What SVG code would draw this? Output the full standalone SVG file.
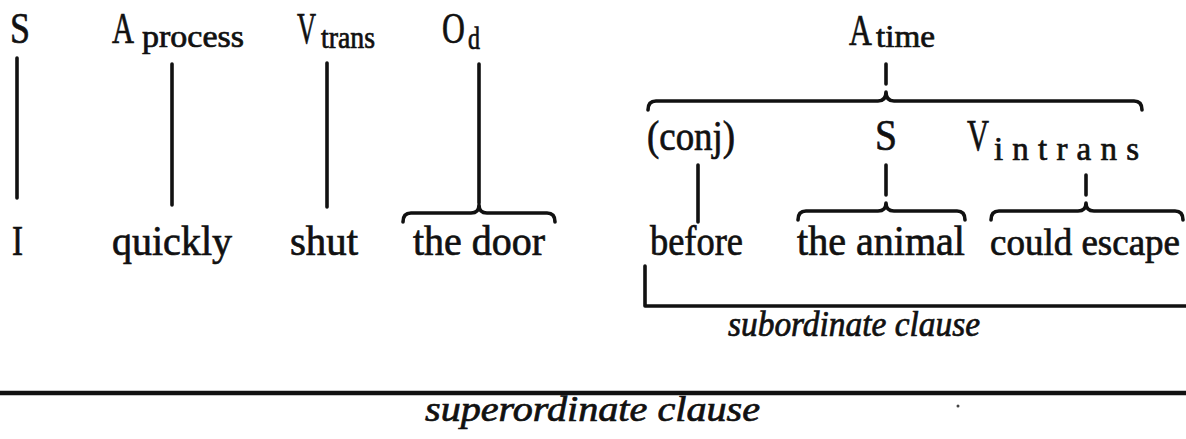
<svg xmlns="http://www.w3.org/2000/svg" width="1186" height="439" viewBox="0 0 1186 439">
<style>
.t{font-family:"Liberation Serif","Times New Roman",serif;font-size:42px;fill:#111;stroke:#111;stroke-width:0.7}
.cap{font-size:44px}
.sub{font-size:31px}
.it{font-style:italic;font-size:35px}
.c{fill:none;stroke:#111;stroke-width:3.6;stroke-linecap:round;stroke-linejoin:round}
</style>
<rect width="1186" height="439" fill="#fff"/>
<g id="connectors" class="c">
<line x1="17" y1="58" x2="17" y2="198"/>
<line x1="172" y1="64" x2="172" y2="205"/>
<line x1="327" y1="63" x2="327" y2="207"/>
<line x1="479" y1="64" x2="479" y2="203"/>
<path d="M403,222 Q403,213 411,213 L471,213 Q479,213 479,205 Q479,213 487,213 L547,213 Q555,213 555,222"/>
<line x1="886" y1="64" x2="886" y2="84"/>
<path d="M648,110 Q648,101 656,101 L878,101 Q886,101 886,92 Q886,101 894,101 L1134,101 Q1142,101 1142,110"/>
<line x1="698" y1="165" x2="698" y2="222"/>
<line x1="886" y1="165" x2="886" y2="195"/>
<path d="M798,220 Q798,211 806,211 L878,211 Q886,211 886,203 Q886,211 894,211 L957,211 Q965,211 965,220"/>
<line x1="1086" y1="175" x2="1086" y2="195"/>
<path d="M991,220 Q991,211 999,211 L1078,211 Q1086,211 1086,203 Q1086,211 1094,211 L1175,211 Q1183,211 1183,220"/>
<path d="M645,266 L645,306 L1186,306"/>
<line x1="0" y1="393" x2="1186" y2="393" stroke-width="4.5"/>
</g>
<g id="n-S"><text class="t cap" x="10" y="43" textLength="20" lengthAdjust="spacingAndGlyphs">S</text></g>
<g id="n-Aprocess"><text class="t cap" x="112" y="43" textLength="22" lengthAdjust="spacingAndGlyphs">A</text><text class="t sub" x="142" y="47" textLength="102" lengthAdjust="spacingAndGlyphs">process</text></g>
<g id="n-Vtrans"><text class="t cap" transform="translate(297,43) scale(0.6,1)">V</text><text class="t sub" x="321" y="48" textLength="54" lengthAdjust="spacingAndGlyphs">trans</text></g>
<g id="n-Od"><text class="t cap" transform="translate(442,43) scale(0.72,1)">O</text><text class="t sub" x="468" y="49" textLength="12" lengthAdjust="spacingAndGlyphs">d</text></g>
<g id="n-Atime"><text class="t cap" transform="translate(849,45) scale(0.72,1)">A</text><text class="t sub" x="876" y="47" textLength="59" lengthAdjust="spacingAndGlyphs">time</text></g>
<g id="n-conj"><text class="t" x="647" y="150" textLength="88" lengthAdjust="spacingAndGlyphs">(conj)</text></g>
<g id="n-S2"><text class="t cap" x="875" y="150" textLength="22" lengthAdjust="spacingAndGlyphs">S</text></g>
<g id="n-Vintrans"><text class="t cap" x="967" y="150" textLength="22" lengthAdjust="spacingAndGlyphs">V</text><text class="t sub" x="994" y="160" style="font-size:33px" textLength="145" lengthAdjust="spacing">intrans</text></g>
<g id="n-I"><text class="t" x="12" y="255" textLength="11" lengthAdjust="spacingAndGlyphs">I</text></g>
<g id="n-quickly"><text class="t" x="112" y="255" textLength="120" lengthAdjust="spacingAndGlyphs">quickly</text></g>
<g id="n-shut"><text class="t" x="290" y="255" textLength="68" lengthAdjust="spacingAndGlyphs">shut</text></g>
<g id="n-thedoor"><text class="t" x="413" y="255" textLength="132" lengthAdjust="spacingAndGlyphs">the door</text></g>
<g id="n-before"><text class="t" x="650" y="255" textLength="93" lengthAdjust="spacingAndGlyphs">before</text></g>
<g id="n-theanimal"><text class="t" x="797" y="255" textLength="168" lengthAdjust="spacingAndGlyphs">the animal</text></g>
<g id="n-couldescape"><text class="t" x="990" y="255" style="font-size:37px" textLength="190" lengthAdjust="spacingAndGlyphs">could escape</text></g>
<g id="n-subordinate"><text class="t it" x="728" y="336" textLength="252" lengthAdjust="spacingAndGlyphs">subordinate clause</text></g>
<g id="n-superordinate"><text class="t it" x="425" y="421" textLength="335" lengthAdjust="spacingAndGlyphs">superordinate clause</text></g>
<circle cx="958" cy="406" r="1.5" fill="#444"/>
</svg>
